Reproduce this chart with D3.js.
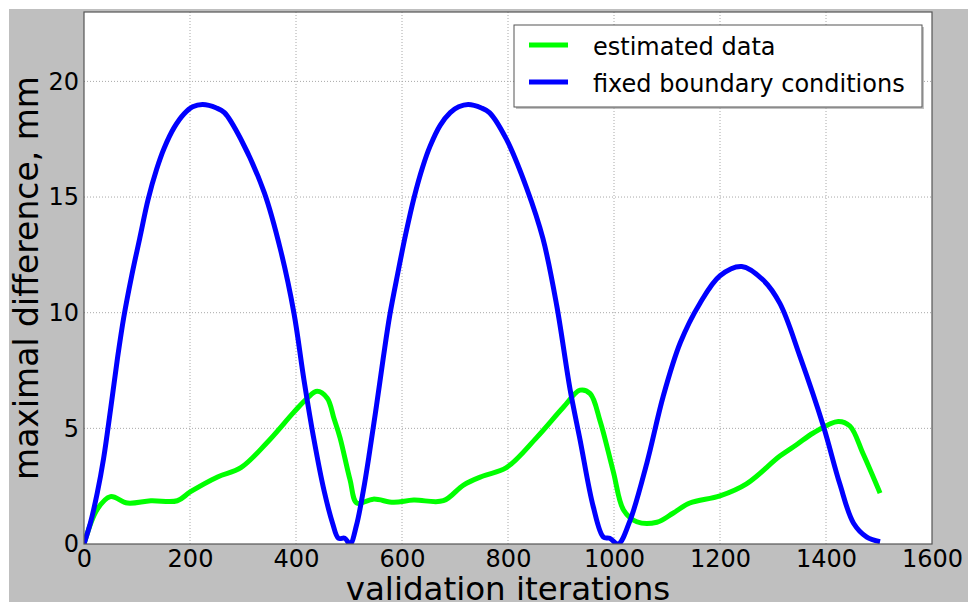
<!DOCTYPE html>
<html><head><meta charset="utf-8">
<script src="https://cdn.jsdelivr.net/npm/d3@7"></script>
<style>
body{margin:0;background:#fff;}
text{font-family:"DejaVu Sans",sans-serif;fill:#000;}
</style>
</head><body>
<svg id="chart" width="968" height="602"></svg>
<script>
const xTicks = [0, 200, 400, 600, 800, 1000, 1200, 1400, 1600];
const yTicks = [0, 5, 10, 15, 20];
const seriesNames = ["estimated data", "fixed boundary conditions"];
const seriesColors = ["#00ff00", "#0000ff"];

const blueX = [0, 12, 25, 37, 50, 63, 75, 90, 105, 121, 137, 151, 170, 189, 205, 224, 250, 265, 296, 340, 371, 396, 415, 434, 453, 469, 480, 492, 502,
  514, 527, 539, 552, 565, 577, 592, 607, 623, 639, 653, 672, 691, 707, 725, 750, 765, 797, 835, 866, 892, 917, 936, 961, 980, 992, 1008,
  1030, 1062, 1093, 1125, 1162, 1200, 1241, 1282, 1313, 1351, 1395, 1426, 1452, 1477, 1502];
const blueY = [0, 0.9, 2.2, 3.7, 5.8, 8.0, 9.8, 11.6, 13.2, 14.9, 16.2, 17.1, 18.0, 18.6, 18.9, 19.0, 18.85, 18.65, 17.5, 15.2, 12.7, 10.0, 7.1, 4.5, 2.3, 0.9, 0.25, 0.25, 0,
  0.8, 2.3, 4.0, 6.0, 8.1, 9.9, 11.7, 13.4, 15.0, 16.3, 17.2, 18.1, 18.65, 18.9, 19.0, 18.85, 18.65, 17.5, 15.4, 13.2, 10.3, 6.7, 4.5, 1.6, 0.3, 0.25, 0,
  1.0, 3.5, 6.4, 8.7, 10.4, 11.6, 12.0, 11.4, 10.4, 8.1, 5.1, 2.6, 0.9, 0.3, 0.1];

const greenX = [0, 25, 50, 82, 126, 176, 201, 252, 296, 346, 396, 421, 440, 459, 472, 483, 502, 515, 546, 584, 622, 678, 716, 753, 797, 854, 904, 936, 955, 974, 999, 1018, 1043, 1081, 1112, 1143, 1200, 1250, 1313, 1345, 1376, 1423, 1445, 1470, 1502];
const greenY = [0, 1.5, 2.05, 1.77, 1.87, 1.87, 2.26, 2.9, 3.3, 4.4, 5.7, 6.3, 6.6, 6.3, 5.4, 4.6, 2.77, 1.77, 1.94, 1.8, 1.9, 1.87, 2.55, 2.94, 3.3, 4.6, 5.9, 6.65, 6.5, 5.3, 3.1, 1.47, 0.96, 0.94, 1.34, 1.77, 2.08, 2.6, 3.8, 4.3, 4.8, 5.3, 5.1, 3.9, 2.2];

const svg = d3.select("#chart");
const L = 84, R = 932, T = 12, B = 544;

svg.append("rect").attr("x", 9).attr("y", 9).attr("width", 959).attr("height", 593).attr("fill", "#bfbfbf");
svg.append("rect").attr("x", L).attr("y", T).attr("width", R - L).attr("height", B - T).attr("fill", "#fff");

const x = d3.scaleLinear().domain([0, 1600]).range([L, R]);
const y = d3.scaleLinear().domain([0, 23]).range([B, T]);

// grid
const g = svg.append("g");
g.selectAll(".gx").data(xTicks.slice(1, -1)).join("line")
  .attr("x1", d => x(d)).attr("x2", d => x(d)).attr("y1", T).attr("y2", B)
  .attr("stroke", "#a8a8a8").attr("stroke-width", 1).attr("stroke-dasharray", "1,2");
g.selectAll(".gy").data(yTicks.slice(1)).join("line")
  .attr("x1", L).attr("x2", R).attr("y1", d => y(d)).attr("y2", d => y(d))
  .attr("stroke", "#a8a8a8").attr("stroke-width", 1).attr("stroke-dasharray", "1,2");

svg.append("clipPath").attr("id", "clip").append("rect")
  .attr("x", L).attr("y", T).attr("width", R - L).attr("height", B - T);

const line = d3.line().x(d => x(d[0])).y(d => y(d[1])).curve(d3.curveCatmullRom.alpha(0.5));
const greenData = greenX.map((v, i) => [v, greenY[i]]);
const blueData = blueX.map((v, i) => [v, blueY[i]]);

const lg = svg.append("g").attr("clip-path", "url(#clip)");
lg.append("path").datum(greenData).attr("d", line).attr("fill", "none")
  .attr("stroke", seriesColors[0]).attr("stroke-width", 5).attr("stroke-linejoin", "round");
lg.append("path").datum(blueData).attr("d", line).attr("fill", "none")
  .attr("stroke", seriesColors[1]).attr("stroke-width", 5).attr("stroke-linejoin", "round");

// frame
svg.append("rect").attr("x", L).attr("y", T).attr("width", R - L).attr("height", B - T)
  .attr("fill", "none").attr("stroke", "#555").attr("stroke-width", 1.2);

// axes
const xa = svg.append("g").attr("transform", `translate(0,${B})`)
  .call(d3.axisBottom(x).tickValues(xTicks).tickSize(0).tickPadding(6).tickFormat(d3.format("d")));
xa.select(".domain").remove();
xa.selectAll("text").attr("font-size", 24).attr("font-family", "DejaVu Sans").attr("fill", "#000");

const ya = svg.append("g").attr("transform", `translate(${L},0)`)
  .call(d3.axisLeft(y).tickValues(yTicks).tickSize(0).tickPadding(5).tickFormat(d3.format("d")));
ya.select(".domain").remove();
ya.selectAll("text").attr("font-size", 24).attr("font-family", "DejaVu Sans").attr("fill", "#000");

svg.append("text").attr("x", (L + R) / 2).attr("y", 600).attr("text-anchor", "middle")
  .attr("font-size", 32.5).text("validation iterations");
svg.append("text").attr("transform", "translate(38,278) rotate(-90)").attr("text-anchor", "middle")
  .attr("font-size", 33).text("maximal difference, mm");

// legend
const leg = svg.append("g");
leg.append("rect").attr("x", 516).attr("y", 27).attr("width", 408).attr("height", 82).attr("fill", "#999").attr("opacity", 0.6);
leg.append("rect").attr("x", 514).attr("y", 25).attr("width", 408).attr("height", 82)
  .attr("fill", "#fff").attr("stroke", "#555").attr("stroke-width", 1);
seriesNames.forEach((n, i) => {
  const yy = [45, 82][i];
  leg.append("line").attr("x1", 529).attr("x2", 568).attr("y1", yy).attr("y2", yy)
    .attr("stroke", seriesColors[i]).attr("stroke-width", 5);
  leg.append("text").attr("x", 593).attr("y", [55, 92][i]).attr("font-size", 24).text(n);
});
</script>
</body></html>
